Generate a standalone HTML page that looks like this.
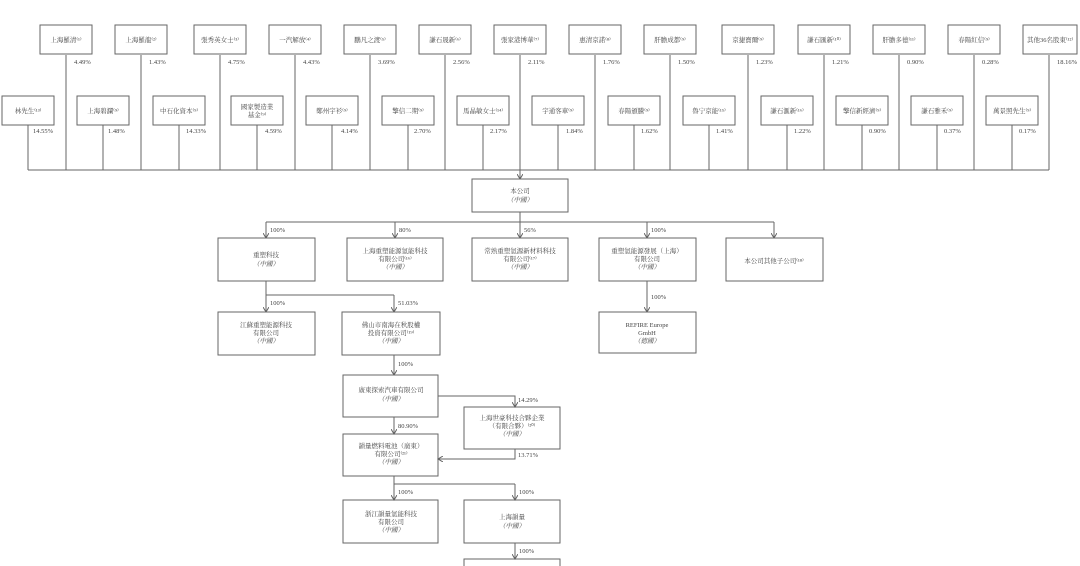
<!DOCTYPE html>
<html><head><meta charset="utf-8"><style>
html,body{margin:0;padding:0;background:#fff;}
svg{display:block;}
text{font-family:"Liberation Serif","Noto Serif CJK SC","Noto Sans CJK TC",serif;font-size:6.5px;fill:#444;}
.i{font-style:italic;}
rect{fill:#fff;stroke:#666;stroke-width:1;}
line,polyline{stroke:#666;stroke-width:1;fill:none;}
</style></head><body>
<svg width="1080" height="566" viewBox="0 0 1080 566" xmlns="http://www.w3.org/2000/svg">
<defs><marker id="a" markerWidth="6" markerHeight="6" refX="5" refY="3" orient="auto" markerUnits="userSpaceOnUse"><path d="M0,0 L5,3 L0,6" fill="none" stroke="#666"/></marker></defs>

<!-- top row lines -->
<g>
<line x1="66" y1="55" x2="66" y2="170"/><line x1="141" y1="55" x2="141" y2="170"/><line x1="220" y1="55" x2="220" y2="170"/><line x1="295" y1="55" x2="295" y2="170"/><line x1="370" y1="55" x2="370" y2="170"/><line x1="445" y1="55" x2="445" y2="170"/><line x1="520" y1="55" x2="520" y2="170"/><line x1="595" y1="55" x2="595" y2="170"/><line x1="670" y1="55" x2="670" y2="170"/><line x1="748" y1="55" x2="748" y2="170"/><line x1="824" y1="55" x2="824" y2="170"/><line x1="899" y1="55" x2="899" y2="170"/><line x1="974" y1="55" x2="974" y2="170"/><line x1="1049" y1="55" x2="1049" y2="170"/>
<line x1="28" y1="123" x2="28" y2="170"/><line x1="103" y1="123" x2="103" y2="170"/><line x1="179" y1="123" x2="179" y2="170"/><line x1="257" y1="123" x2="257" y2="170"/><line x1="332" y1="123" x2="332" y2="170"/><line x1="408" y1="123" x2="408" y2="170"/><line x1="483" y1="123" x2="483" y2="170"/><line x1="558" y1="123" x2="558" y2="170"/><line x1="634" y1="123" x2="634" y2="170"/><line x1="709" y1="123" x2="709" y2="170"/><line x1="787" y1="123" x2="787" y2="170"/><line x1="862" y1="123" x2="862" y2="170"/><line x1="937" y1="123" x2="937" y2="170"/><line x1="1012" y1="123" x2="1012" y2="170"/>
<line x1="28" y1="170" x2="1049" y2="170"/>
<line x1="520" y1="170" x2="520" y2="179" marker-end="url(#a)"/>
</g>
<!-- top boxes -->
<g text-anchor="middle">
<rect x="40" y="25" width="52" height="29"/><text x="66" y="42">上海羅清⁽¹⁾</text>
<rect x="115" y="25" width="52" height="29"/><text x="141" y="42">上海羅龍⁽²⁾</text>
<rect x="194" y="25" width="52" height="29"/><text x="220" y="42">張秀英女士⁽³⁾</text>
<rect x="269" y="25" width="52" height="29"/><text x="295" y="42">一汽解放⁽⁴⁾</text>
<rect x="344" y="25" width="52" height="29"/><text x="370" y="42">鵬凡之渡⁽⁵⁾</text>
<rect x="419" y="25" width="52" height="29"/><text x="445" y="42">謙石晟新⁽⁶⁾</text>
<rect x="494" y="25" width="52" height="29"/><text x="520" y="42">張家港博華⁽⁷⁾</text>
<rect x="569" y="25" width="52" height="29"/><text x="595" y="42">惠清京諾⁽⁸⁾</text>
<rect x="644" y="25" width="52" height="29"/><text x="670" y="42">肝膽成都⁽⁹⁾</text>
<rect x="722" y="25" width="52" height="29"/><text x="748" y="42">京捷寶爾⁽⁹⁾</text>
<rect x="798" y="25" width="52" height="29"/><text x="824" y="42">謙石匯新⁽¹⁰⁾</text>
<rect x="873" y="25" width="52" height="29"/><text x="899" y="42">肝膽多德⁽¹¹⁾</text>
<rect x="948" y="25" width="52" height="29"/><text x="974" y="42">春陽紅信⁽⁹⁾</text>
<rect x="1023" y="25" width="54" height="29"/><text x="1050" y="42">其他36名股東⁽¹²⁾</text>

<rect x="2" y="96" width="52" height="29"/><text x="28" y="113">林先生⁽¹³⁾</text>
<rect x="77" y="96" width="52" height="29"/><text x="103" y="113">上海碧瀾⁽⁹⁾</text>
<rect x="153" y="96" width="52" height="29"/><text x="179" y="113">中石化資本⁽⁹⁾</text>
<rect x="231" y="96" width="52" height="29"/><text x="257" y="109">國家製造業</text><text x="257" y="117">基金⁽⁹⁾</text>
<rect x="306" y="96" width="52" height="29"/><text x="332" y="113">鄭州宇衫⁽⁹⁾</text>
<rect x="382" y="96" width="52" height="29"/><text x="408" y="113">擎信二期⁽⁹⁾</text>
<rect x="457" y="96" width="52" height="29"/><text x="483" y="113">馬晶敏女士⁽¹⁴⁾</text>
<rect x="532" y="96" width="52" height="29"/><text x="558" y="113">宇通客車⁽⁹⁾</text>
<rect x="608" y="96" width="52" height="29"/><text x="634" y="113">春陽頒騰⁽⁹⁾</text>
<rect x="683" y="96" width="52" height="29"/><text x="709" y="113">魯宁京能⁽¹⁵⁾</text>
<rect x="761" y="96" width="52" height="29"/><text x="787" y="113">謙石滙新⁽¹⁶⁾</text>
<rect x="836" y="96" width="52" height="29"/><text x="862" y="113">擎信新經濟⁽⁹⁾</text>
<rect x="911" y="96" width="52" height="29"/><text x="937" y="113">謙石雅禾⁽⁹⁾</text>
<rect x="986" y="96" width="52" height="29"/><text x="1012" y="113">萬景照先生⁽⁹⁾</text>
</g>
<g>
<text x="74" y="64">4.49%</text><text x="149" y="64">1.43%</text><text x="228" y="64">4.75%</text><text x="303" y="64">4.43%</text><text x="378" y="64">3.69%</text><text x="453" y="64">2.56%</text><text x="528" y="64">2.11%</text><text x="603" y="64">1.76%</text><text x="678" y="64">1.50%</text><text x="756" y="64">1.23%</text><text x="832" y="64">1.21%</text><text x="907" y="64">0.90%</text><text x="982" y="64">0.28%</text><text x="1057" y="64">18.16%</text>
<text x="33" y="133">14.55%</text><text x="108" y="133">1.48%</text><text x="186" y="133">14.33%</text><text x="265" y="133">4.59%</text><text x="341" y="133">4.14%</text><text x="414" y="133">2.70%</text><text x="490" y="133">2.17%</text><text x="566" y="133">1.84%</text><text x="641" y="133">1.62%</text><text x="716" y="133">1.41%</text><text x="794" y="133">1.22%</text><text x="869" y="133">0.90%</text><text x="944" y="133">0.37%</text><text x="1019" y="133">0.17%</text>
</g>

<!-- 本公司 -->
<g text-anchor="middle">
<rect x="472" y="179" width="96" height="33"/><text x="520" y="193">本公司</text><text class="i" x="520" y="202">（中國）</text>
</g>
<line x1="520" y1="212" x2="520" y2="222"/>
<line x1="266" y1="222" x2="774" y2="222"/>
<line x1="266" y1="222" x2="266" y2="238" marker-end="url(#a)"/>
<line x1="395" y1="222" x2="395" y2="238" marker-end="url(#a)"/>
<line x1="520" y1="222" x2="520" y2="238" marker-end="url(#a)"/>
<line x1="647" y1="222" x2="647" y2="238" marker-end="url(#a)"/>
<line x1="774" y1="222" x2="774" y2="238" marker-end="url(#a)"/>
<text x="270" y="232">100%</text><text x="399" y="232">80%</text><text x="524" y="232">56%</text><text x="651" y="232">100%</text>

<g text-anchor="middle">
<rect x="218" y="238" width="97" height="43"/><text x="266" y="257">重塑科技</text><text class="i" x="266" y="266">（中國）</text>
<rect x="347" y="238" width="96" height="43"/><text x="395" y="253">上海重塑能源氫能科技</text><text x="395" y="261">有限公司⁽¹⁶⁾</text><text class="i" x="395" y="269">（中國）</text>
<rect x="472" y="238" width="96" height="43"/><text x="520" y="253">常熟重塑氫源新材料科技</text><text x="520" y="261">有限公司⁽¹⁷⁾</text><text class="i" x="520" y="269">（中國）</text>
<rect x="599" y="238" width="97" height="43"/><text x="647" y="253">重塑氫能源發展（上海）</text><text x="647" y="261">有限公司</text><text class="i" x="647" y="269">（中國）</text>
<rect x="726" y="238" width="97" height="43"/><text x="774" y="263">本公司其他子公司⁽¹⁸⁾</text>
</g>

<line x1="266" y1="281" x2="266" y2="295"/>
<line x1="266" y1="295" x2="394" y2="295"/>
<line x1="266" y1="295" x2="266" y2="312" marker-end="url(#a)"/>
<line x1="394" y1="295" x2="394" y2="312" marker-end="url(#a)"/>
<text x="270" y="305">100%</text><text x="398" y="305">51.03%</text>
<line x1="647" y1="281" x2="647" y2="312" marker-end="url(#a)"/>
<text x="651" y="299">100%</text>

<g text-anchor="middle">
<rect x="218" y="312" width="97" height="43"/><text x="266" y="327">江蘇重塑能源科技</text><text x="266" y="335">有限公司</text><text class="i" x="266" y="343">（中國）</text>
<rect x="342" y="312" width="98" height="43"/><text x="391" y="327">佛山市南海在秋股權</text><text x="391" y="335">投資有限公司⁽¹⁹⁾</text><text class="i" x="391" y="343">（中國）</text>
<rect x="599" y="312" width="97" height="41"/><text x="647" y="327">REFIRE Europe</text><text x="647" y="335">GmbH</text><text class="i" x="647" y="343">（德國）</text>
</g>

<line x1="394" y1="355" x2="394" y2="375" marker-end="url(#a)"/>
<text x="398" y="366">100%</text>
<g text-anchor="middle">
<rect x="343" y="375" width="95" height="42"/><text x="391" y="392">廣東探索汽車有限公司</text><text class="i" x="391" y="401">（中國）</text>
<rect x="464" y="407" width="96" height="42"/><text x="512" y="420">上海世豪科技合夥企業</text><text x="512" y="428">（有限合夥）⁽²⁰⁾</text><text class="i" x="512" y="436">（中國）</text>
<rect x="343" y="434" width="95" height="42"/><text x="391" y="448">韻量燃料電池（廣東）</text><text x="391" y="456">有限公司⁽²¹⁾</text><text class="i" x="391" y="464">（中國）</text>
<rect x="343" y="500" width="95" height="43"/><text x="391" y="516">浙江韻量氫能科技</text><text x="391" y="524">有限公司</text><text class="i" x="391" y="532">（中國）</text>
<rect x="464" y="500" width="96" height="43"/><text x="512" y="519">上海韻量</text><text class="i" x="512" y="528">（中國）</text>
<rect x="464" y="559" width="96" height="20"/>
</g>
<polyline points="438,396 515,396 515,407" marker-end="url(#a)"/>
<text x="518" y="402">14.29%</text>
<line x1="394" y1="417" x2="394" y2="434" marker-end="url(#a)"/>
<text x="398" y="428">80.90%</text>
<polyline points="515,449 515,459 438,459" marker-end="url(#a)"/>
<text x="518" y="457">13.71%</text>
<line x1="394" y1="476" x2="394" y2="484"/>
<line x1="394" y1="484" x2="515" y2="484"/>
<line x1="394" y1="484" x2="394" y2="500" marker-end="url(#a)"/>
<line x1="515" y1="484" x2="515" y2="500" marker-end="url(#a)"/>
<text x="398" y="494">100%</text><text x="519" y="494">100%</text>
<line x1="515" y1="543" x2="515" y2="559" marker-end="url(#a)"/>
<text x="519" y="553">100%</text>
</svg>
</body></html>
